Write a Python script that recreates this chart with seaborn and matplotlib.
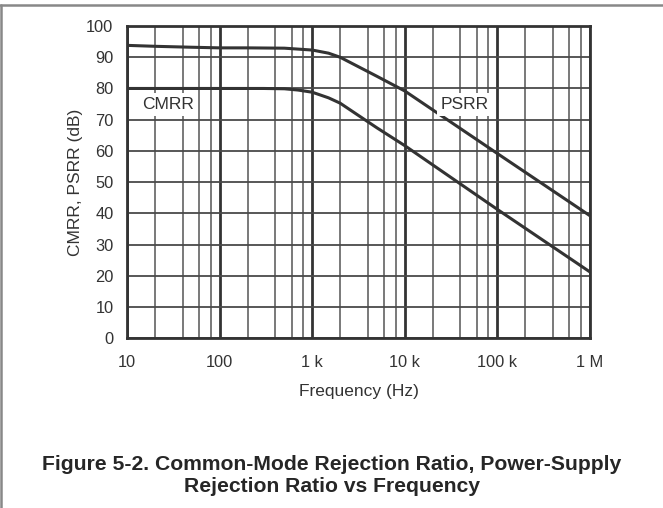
import numpy as np
import pandas as pd
import seaborn as sns
import matplotlib.pyplot as plt
from matplotlib.lines import Line2D
from matplotlib.ticker import FixedLocator, NullFormatter

# values
psrr_freq = [10, 20, 50, 100, 200, 500, 1000, 1500, 2000, 3000, 5000, 10000, 100000, 1000000]
psrr_db = [93.8, 93.5, 93.2, 93.0, 93.0, 92.9, 92.3, 91.3, 90.0, 87.3, 83.9, 79.2, 59.2, 39.3]

cmrr_freq = [10, 100, 300, 500, 700, 1000, 1500, 2000, 3000, 5000, 10000, 100000, 1000000]
cmrr_db = [80.0, 80.0, 80.0, 79.9, 79.5, 78.8, 77.0, 75.3, 71.8, 67.4, 61.7, 41.3, 21.3]

x_ticks = [10, 100, 1000, 10000, 100000, 1000000]
x_ticklabels = ['10', '100', '1 k', '10 k', '100 k', '1 M']
# the grid only has 2, 4, 6, 8 inside each decade
minor_steps = [2, 4, 6, 8]
y_ticks = list(range(0, 101, 10))

df = pd.concat([
    pd.DataFrame({'freq': psrr_freq, 'db': psrr_db, 'curve': 'PSRR'}),
    pd.DataFrame({'freq': cmrr_freq, 'db': cmrr_db, 'curve': 'CMRR'}),
])

sns.set_style('white')
plt.rcParams['font.family'] = ['Liberation Sans', 'DejaVu Sans']

fig, ax = plt.subplots(figsize=(6.63, 5.08), dpi=100)
fig.subplots_adjust(left=0.192, right=0.8895, top=0.9488, bottom=0.334)

sns.lineplot(data=df, x='freq', y='db', hue='curve', palette=['#333333', '#333333'],
             linewidth=2.2, legend=False, ax=ax, zorder=5)

ax.set_xscale('log')
ax.set_xlim(10, 1e6)
ax.set_ylim(0, 100)

minor_ticks = [d * m for d in x_ticks[:-1] for m in minor_steps]
ax.xaxis.set_major_locator(FixedLocator(x_ticks))
ax.set_xticklabels(x_ticklabels)
ax.xaxis.set_minor_locator(FixedLocator(minor_ticks))
ax.xaxis.set_minor_formatter(NullFormatter())
ax.set_yticks(y_ticks)

ax.grid(True, which='major', axis='x', color='#333333', linewidth=2.0)
ax.grid(True, which='minor', axis='x', color='#6e6e6e', linewidth=1.3)
ax.grid(True, which='major', axis='y', color='#4a4a4a', linewidth=1.3)
ax.tick_params(axis='both', which='both', length=0, labelsize=11.8, labelcolor='#333333')
ax.tick_params(axis='x', pad=12)
ax.tick_params(axis='y', pad=10)

for s in ax.spines.values():
    s.set_color('#333333')
    s.set_linewidth(2.0)

ax.set_xlabel('Frequency (Hz)', fontsize=12.5, color='#333333', labelpad=10)
ax.set_ylabel('CMRR, PSRR (dB)', fontsize=12.5, color='#333333', labelpad=2)

box = dict(facecolor='white', edgecolor='none', pad=3)
ax.text(27.4, 74.8, 'CMRR', fontsize=12.5, color='#333333', ha='center', va='center', bbox=box, zorder=6)
ax.text(44600, 74.8, 'PSRR', fontsize=12.5, color='#333333', ha='center', va='center', bbox=box, zorder=6)

fig.text(0.5, 0.0636, 'Figure 5-2. Common-Mode Rejection Ratio, Power-Supply\nRejection Ratio vs Frequency',
         ha='center', va='center', fontsize=15.2, fontweight='bold', linespacing=1.2)

# page frame lines
fig.add_artist(Line2D([0, 1], [0.9905, 0.9905], transform=fig.transFigure, color='#888888', linewidth=1.8))
fig.add_artist(Line2D([0.002, 0.002], [0, 0.9905], transform=fig.transFigure, color='#888888', linewidth=1.8))

fig.savefig('out.png', dpi=100)
